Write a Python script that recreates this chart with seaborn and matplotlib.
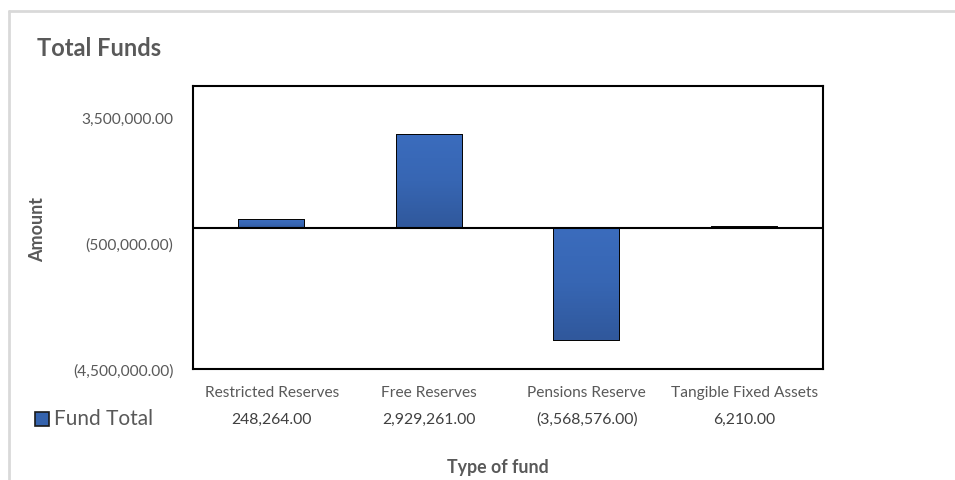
import numpy as np
import pandas as pd
import matplotlib
matplotlib.use("Agg")
import matplotlib.pyplot as plt
import matplotlib.transforms as mtransforms
from matplotlib.lines import Line2D
import seaborn as sns

# ------------------------------
# data
# ------------------------------
categories = ["Restricted Reserves", "Free Reserves", "Pensions Reserve", "Tangible Fixed Assets"]
fund_total = [248264.00, 2929261.00, -3568576.00, 6210.00]
y_ticks = [-4500000, -500000, 3500000]
series_name = "Fund Total"

W, H = 955, 481
GREY = "#595959"

sns.set_theme(style="white")
plt.rcParams["font.family"] = ["Lato", "DejaVu Sans"]


def fmt(v):
    # excel accounting style: negatives in brackets
    s = f"{abs(v):,.2f}"
    return f"({s})" if v < 0 else s


def fx(x):
    return x / W


def fy(y):
    return 1 - y / H


df = pd.DataFrame({"fund": categories, "amount": fund_total})

fig = plt.figure(figsize=(W / 100, H / 100), dpi=100)
fig.patch.set_facecolor("white")
ax = fig.add_axes([fx(193), fy(370), fx(823) - fx(193), fy(87) - fy(370)])

sns.barplot(data=df, x="fund", y="amount", ax=ax, color="#3563AD",
            width=0.41, edgecolor="black", linewidth=1.4, saturation=1)

# soft vertical gradient inside each bar
grad = np.linspace(0, 1, 64).reshape(-1, 1)
cmap = matplotlib.colors.LinearSegmentedColormap.from_list(
    "bar", ["#30589C", "#3766B3", "#3B6CBD"])
for p in ax.patches:
    x0, y0 = p.get_x(), p.get_y()
    w, h = p.get_width(), p.get_height()
    im = ax.imshow(grad, cmap=cmap, aspect="auto", origin="lower",
                   extent=[x0, x0 + w, min(y0, y0 + h), max(y0, y0 + h)],
                   zorder=p.get_zorder())
    im.set_clip_path(p)

ax.set_xlim(-0.5, len(categories) - 0.5)
ax.set_ylim(-4500000, 4500000)
ax.set_yticks(y_ticks)
ax.set_yticklabels([fmt(v) for v in y_ticks], color=GREY, fontsize=11.2)
ax.tick_params(axis="y", length=0, pad=14)
ax.set_xticks([])
ax.set_xlabel("")
ax.set_ylabel("")
ax.axhline(0, color="black", lw=1.5, zorder=3)
for s in ax.spines.values():
    s.set_visible(True)
    s.set_color("black")
    s.set_linewidth(1.5)

# data table under the axis
trans = mtransforms.blended_transform_factory(ax.transData, fig.transFigure)
for i, (c, v) in enumerate(zip(categories, fund_total)):
    fig.text(i, fy(393), c, transform=trans, ha="center", va="center",
             color=GREY, fontsize=11.2)
    fig.text(i, fy(420), fmt(v), transform=trans, ha="center", va="center",
             color="#404040", fontsize=11.3)

# legend key for the table row
fig.add_artist(Line2D([fx(42)], [fy(420)], marker="s", markersize=10,
                      markerfacecolor="#3563AD", markeredgecolor="#1a1a1a",
                      markeredgewidth=1.2, linestyle="none"))
fig.text(fx(54), fy(419), series_name, ha="left", va="center",
         color=GREY, fontsize=15)

# titles
fig.text(fx(37), fy(48), "Total Funds", ha="left", va="center",
         color=GREY, fontsize=17, fontweight="bold")
fig.text(fx(38), fy(230), "Amount", ha="center", va="center", rotation=90,
         color=GREY, fontsize=13, fontweight="bold")
fig.text(fx(498), fy(468), "Type of fund", ha="center", va="center",
         color=GREY, fontsize=12.8, fontweight="bold")

# chart area border (top and left only visible)
fig.add_artist(Line2D([fx(9), 1], [fy(12), fy(12)], color="#D9D9D9", lw=2))
fig.add_artist(Line2D([fx(9), fx(9)], [fy(12), 0], color="#D9D9D9", lw=2))

fig.savefig("out.png", dpi=100)
